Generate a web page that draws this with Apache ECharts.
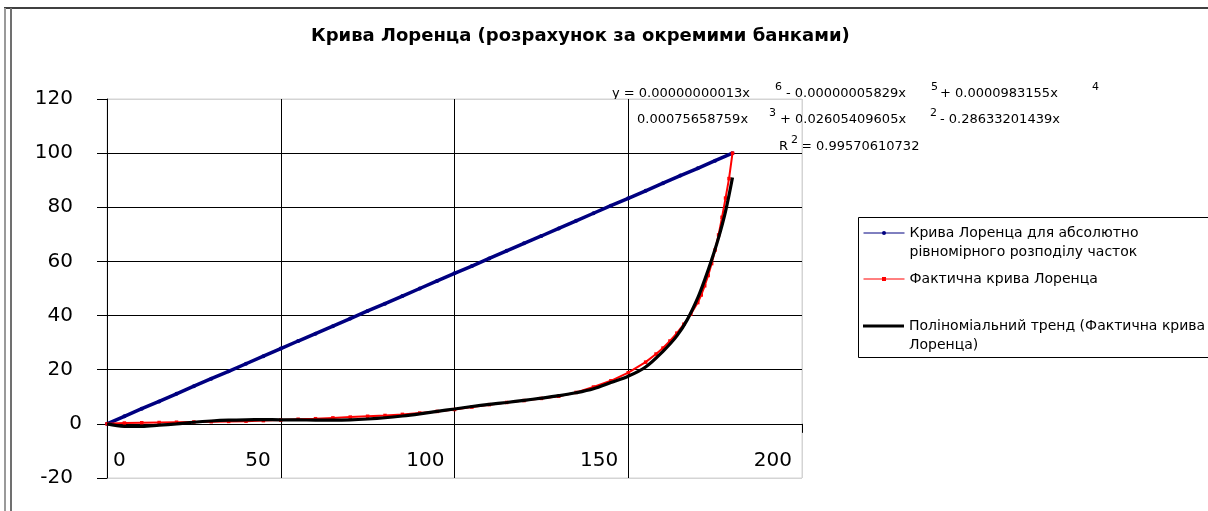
<!DOCTYPE html>
<html>
<head>
<meta charset="utf-8">
<script src="https://cdn.jsdelivr.net/npm/echarts@6/dist/echarts.min.js"></script>
<style>
  html, body { margin: 0; padding: 0; background: #fff; }
  #chart { width: 1208px; height: 511px; }
</style>
</head>
<body>
<div id="chart"></div>
<script>
// Axis ticks
const xTicks = [0, 50, 100, 150, 200];
const yTicks = [-20, 0, 20, 40, 60, 80, 100, 120];

// Line of absolutely equal distribution (cumulative % of shares)
const equalX = [0, 5, 10, 15, 20, 25, 30, 35, 40, 45, 50, 55, 60, 65, 70, 75, 80, 85, 90,
                95, 100, 105, 110, 115, 120, 125, 130, 135, 140, 145, 150, 155, 160, 165, 170, 175, 180];
const equalY = [0, 2.8, 5.6, 8.3, 11.1, 13.9, 16.7, 19.4, 22.2, 25.0, 27.8, 30.6, 33.3, 36.1, 38.9, 41.7, 44.4, 47.2, 50.0,
                52.8, 55.6, 58.3, 61.1, 63.9, 66.7, 69.4, 72.2, 75.0, 77.8, 80.6, 83.3, 86.1, 88.9, 91.7, 94.4, 97.2, 100];

// Actual Lorenz curve
const actualX = [0, 5, 10, 15, 20, 25, 30, 35, 40, 45, 50, 55, 60, 65, 70, 75, 80, 85, 90, 95, 100,
                 105, 110, 115, 120, 125, 130, 135, 140, 145, 150, 155, 158, 160, 162, 164, 166, 168, 170,
                 171, 172, 173, 174, 175, 176, 177, 178, 179, 180];
const actualY = [0, 0.3, 0.4, 0.5, 0.6, 0.7, 0.8, 0.9, 1.0, 1.2, 1.4, 1.7, 1.9, 2.2, 2.5, 2.8, 3.1, 3.5, 4.0, 4.6, 5.3,
                 6.2, 7.1, 7.9, 8.6, 9.4, 10.2, 11.6, 13.6, 15.9, 18.9, 22.8, 25.8, 28.0, 30.6, 33.5, 36.8, 40.5, 44.8,
                 47.6, 51.0, 54.8, 59.2, 64.2, 69.8, 76.3, 83.4, 90.6, 100];

// Polynomial trend (6th degree) of the actual curve
const trendX = [0, 5, 10, 15, 20, 25, 30, 35, 40, 45, 50, 55, 60, 65, 70, 75, 80, 85, 90, 95, 100,
                105, 110, 115, 120, 125, 130, 135, 140, 145, 150, 155, 160, 164, 167, 170, 172, 174, 176, 178, 180];
const trendY = [0, -0.9, -0.95, -0.5, 0, 0.6, 1.05, 1.35, 1.5, 1.55, 1.5, 1.45, 1.4, 1.4, 1.5, 1.8, 2.25, 2.9, 3.7, 4.6, 5.5,
                6.4, 7.2, 7.9, 8.7, 9.5, 10.4, 11.5, 13.0, 15.3, 17.6, 21.0, 26.8, 32.5, 38.5, 46.5, 53.2, 60.6, 68.8, 78.5, 91.0];

const seriesNames = [
  'Крива Лоренца для абсолютно\nрівномірного розподілу часток',
  'Фактична крива Лоренца',
  'Поліноміальний тренд (Фактична крива\nЛоренца)'
];
const titleText = 'Крива Лоренца (розрахунок за окремими банками)';

const FONT = 'DejaVu Sans';
const pairs = (xs, ys) => xs.map((x, i) => [x, ys[i]]);

// Trendline equation, drawn as text runs (normal + superscript)
const eqRuns = [
  { t: 'y = 0.00000000013x', x: 612, y: 94 },
  { t: '6', x: 775, y: 87, sup: true },
  { t: '- 0.00000005829x', x: 786, y: 94 },
  { t: '5', x: 931, y: 87, sup: true },
  { t: '+ 0.0000983155x', x: 940, y: 94 },
  { t: '4', x: 1092, y: 87, sup: true },
  { t: '0.00075658759x', x: 637, y: 120 },
  { t: '3', x: 769, y: 113, sup: true },
  { t: '+ 0.02605409605x', x: 780, y: 120 },
  { t: '2', x: 930, y: 113, sup: true },
  { t: '- 0.28633201439x', x: 940, y: 120 },
  { t: 'R', x: 779, y: 147 },
  { t: '2', x: 791, y: 140, sup: true },
  { t: '= 0.99570610732', x: 801, y: 147 }
];

const graphics = [
  // outer frame
  { type: 'line', shape: { x1: 4, y1: 8, x2: 1208, y2: 8 }, style: { stroke: '#000', lineWidth: 1.5 }, silent: true },
  { type: 'line', shape: { x1: 5, y1: 8, x2: 5, y2: 511 }, style: { stroke: '#9a9a9a', lineWidth: 2 }, silent: true },
  { type: 'line', shape: { x1: 11, y1: 8, x2: 11, y2: 511 }, style: { stroke: '#707070', lineWidth: 2 }, silent: true },
  // legend frame
  { type: 'rect', shape: { x: 858.5, y: 217.5, width: 400, height: 140 }, style: { fill: 'none', stroke: '#000', lineWidth: 1 }, silent: true, z: 1 }
];
eqRuns.forEach(r => {
  graphics.push({
    type: 'text', x: r.x, y: r.y, silent: true,
    style: { text: r.t, fill: '#000', font: (r.sup ? 11 : 13) + 'px "' + FONT + '"', verticalAlign: 'middle' }
  });
});

const legendText = { fontFamily: FONT, fontSize: 14, lineHeight: 19, color: '#000' };

const chart = echarts.init(document.getElementById('chart'), null, { renderer: 'canvas' });
chart.setOption({
  animation: false,
  backgroundColor: '#fff',
  title: {
    text: titleText, left: 311, top: 27, padding: 0,
    textStyle: { fontFamily: FONT, fontWeight: 'bold', fontSize: 18, color: '#000' }
  },
  grid: {
    left: 107, right: 406, top: 99, bottom: 33,
    show: true, borderColor: '#d4d4d4', borderWidth: 1, outerBoundsMode: 'none'
  },
  xAxis: {
    type: 'value', min: xTicks[0], max: xTicks[xTicks.length - 1], interval: 50,
    axisLine: { onZero: true, lineStyle: { color: '#000', width: 1 } },
    axisTick: { show: true, length: 9, lineStyle: { color: '#000' } },
    axisLabel: {
      fontFamily: FONT, fontSize: 20, color: '#000', margin: -27,
      align: 'right', alignMinLabel: 'left', padding: [0, 10, 0, 6]
    },
    splitLine: { show: true, lineStyle: { color: ['#000', '#000', '#000', '#000', '#d4d4d4'], width: 1 } }
  },
  yAxis: {
    type: 'value', min: yTicks[0], max: yTicks[yTicks.length - 1], interval: 20,
    axisLine: { show: true, lineStyle: { color: '#000', width: 1 } },
    axisTick: { show: true, length: 10, lineStyle: { color: '#000' } },
    axisLabel: {
      fontFamily: FONT, fontSize: 20, color: '#000', margin: 25,
      formatter: v => (v === 0 ? '0' : '{p|' + v + '}'),
      rich: { p: { fontFamily: FONT, fontSize: 20, color: '#000', padding: [0, 9, 0, 0] } }
    },
    splitLine: { show: true, lineStyle: { color: ['#d4d4d4', '#000', '#000', '#000', '#000', '#000', '#000', '#d4d4d4'], width: 1 } }
  },
  legend: [
    {
      data: [seriesNames[0]], left: 863, top: 204.5, padding: 0, orient: 'vertical',
      itemWidth: 41, itemHeight: 5, selectedMode: false,
      formatter: n => '\n' + n, textStyle: legendText, lineStyle: { width: 1 }
    },
    {
      data: [seriesNames[1]], left: 863, top: 269.5, padding: 0, orient: 'vertical',
      itemWidth: 41, itemHeight: 5, selectedMode: false,
      textStyle: legendText, lineStyle: { width: 1 }
    },
    {
      data: [{ name: seriesNames[2], icon: 'rect' }], left: 863, top: 297.5, padding: 0, orient: 'vertical',
      itemWidth: 41, itemHeight: 3, selectedMode: false,
      formatter: n => '\n' + n, textStyle: legendText
    }
  ],
  graphic: graphics,
  series: [
    {
      name: seriesNames[0], type: 'line', data: pairs(equalX, equalY),
      symbol: 'circle', symbolSize: 4, showAllSymbol: true,
      lineStyle: { color: '#000080', width: 3.5 }, itemStyle: { color: '#000080' }, z: 2
    },
    {
      name: seriesNames[1], type: 'line', data: pairs(actualX, actualY),
      symbol: 'rect', symbolSize: 3.5, showAllSymbol: true,
      lineStyle: { color: '#ff0000', width: 2 }, itemStyle: { color: '#ff0000' }, z: 3
    },
    {
      name: seriesNames[2], type: 'line', data: pairs(trendX, trendY),
      symbol: 'none', smooth: 0.35,
      lineStyle: { color: '#000', width: 3.2 }, itemStyle: { color: '#000' }, z: 4
    }
  ]
});
</script>
</body>
</html>
